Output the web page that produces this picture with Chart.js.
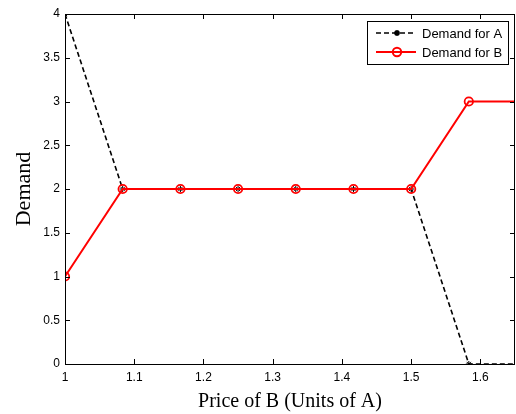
<!DOCTYPE html>
<html>
<head>
<meta charset="utf-8">
<script src="https://cdn.jsdelivr.net/npm/chart.js@4/dist/chart.umd.min.js"></script>
<style>
html,body{margin:0;padding:0;background:#fff;}
#wrap{width:516px;height:414px;position:relative;}
</style>
</head>
<body>
<div id="wrap"><canvas id="c" width="516" height="414"></canvas></div>
<script>
const priceB = [1, 1.0833, 1.1667, 1.25, 1.3333, 1.4167, 1.5, 1.5833, 1.6667];
const demandA = [4, 2, 2, 2, 2, 2, 2, 0, 0];
const demandB = [1, 2, 2, 2, 2, 2, 2, 3, 3];
const xTicks = [1, 1.1, 1.2, 1.3, 1.4, 1.5, 1.6];
const yTicks = [0, 0.5, 1, 1.5, 2, 2.5, 3, 3.5, 4];
const seriesLabels = ['Demand for A', 'Demand for B'];
const xTitle = 'Price of B (Units of A)';
const yTitle = 'Demand';

// keep marker overflow from shrinking the plot area
Chart.LineController.prototype.getMaxOverflow = function () { return 0; };

const boxPlugin = {
  id: 'boxPlugin',
  afterDatasetsDraw(chart) {
    const ctx = chart.ctx, a = chart.chartArea;
    const xs = chart.scales.x, ys = chart.scales.y;
    ctx.save();
    ctx.strokeStyle = '#000';
    ctx.lineWidth = 1;
    ctx.beginPath();
    ctx.rect(Math.round(a.left) + 0.5, Math.round(a.top) + 0.5, Math.round(a.right - a.left) - 1, Math.round(a.bottom - a.top));
    ctx.stroke();
    const tl = 5;
    ctx.beginPath();
    xTicks.forEach(v => {
      const px = Math.round(xs.getPixelForValue(v)) + 0.5;
      ctx.moveTo(px, a.bottom); ctx.lineTo(px, a.bottom - tl);
      ctx.moveTo(px, a.top); ctx.lineTo(px, a.top + tl);
    });
    yTicks.forEach(v => {
      const py = Math.round(ys.getPixelForValue(v)) + 0.5;
      ctx.moveTo(a.left, py); ctx.lineTo(a.left + tl, py);
      ctx.moveTo(a.right, py); ctx.lineTo(a.right - tl, py);
    });
    ctx.stroke();

    // legend
    const lx = 367, ly = 21, lw = 141, lh = 43;
    ctx.fillStyle = '#fff';
    ctx.fillRect(lx, ly, lw, lh);
    ctx.strokeStyle = '#000';
    ctx.lineWidth = 1;
    ctx.strokeRect(lx + 0.5, ly + 0.5, lw, lh);
    const rows = [33, 52];
    chart.data.datasets.forEach((ds, i) => {
      const y = rows[i];
      ctx.save();
      ctx.strokeStyle = ds.borderColor;
      ctx.lineWidth = ds.borderWidth;
      ctx.setLineDash(ds.borderDash || []);
      ctx.beginPath(); ctx.moveTo(376, y); ctx.lineTo(416, y); ctx.stroke();
      ctx.setLineDash([]);
      ctx.fillStyle = ds.pointBackgroundColor;
      Chart.helpers.drawPoint(ctx, {
        pointStyle: ds.pointStyle, radius: ds.pointRadius, rotation: 0,
        borderWidth: ds.pointBorderWidth || 1
      }, 397, y);
      ctx.restore();
      ctx.save();
      ctx.fillStyle = '#000';
      ctx.font = '13px "Liberation Sans", Arial, sans-serif';
      ctx.textBaseline = 'middle';
      ctx.fillText(ds.label, 422, y + 1);
      ctx.restore();
    });
    ctx.restore();
  }
};

new Chart(document.getElementById('c'), {
  type: 'line',
  data: {
    datasets: [
      {
        label: seriesLabels[0],
        data: priceB.map((x, i) => ({x, y: demandA[i]})),
        borderColor: '#000', backgroundColor: '#000',
        borderWidth: 1.6, borderDash: [5, 3],
        pointStyle: 'star', pointRadius: 3, pointBorderWidth: 1,
        pointBorderColor: '#000', pointBackgroundColor: '#000',
        order: 2, tension: 0
      },
      {
        label: seriesLabels[1],
        data: priceB.map((x, i) => ({x, y: demandB[i]})),
        borderColor: '#ff0000', backgroundColor: 'rgba(0,0,0,0)',
        borderWidth: 2,
        pointStyle: 'circle', pointRadius: 4.2, pointBorderWidth: 1.8,
        pointBorderColor: '#ff0000', pointBackgroundColor: 'rgba(0,0,0,0)',
        order: 1, tension: 0
      }
    ]
  },
  options: {
    responsive: false, animation: false,
    layout: { padding: { left: 0, right: 1, top: 14, bottom: 0 } },
    plugins: { legend: { display: false }, tooltip: { enabled: false } },
    scales: {
      x: {
        type: 'linear', min: 1, max: 1.65,
        afterBuildTicks: s => { s.ticks = xTicks.map(v => ({value: v})); },
        afterFit: s => { s.height = 50; s.paddingRight = 0; s.paddingLeft = 0; },
        grid: { display: false, drawTicks: false },
        border: { display: false },
        ticks: { color: '#000', padding: 6, maxRotation: 0,
          font: { family: '"Liberation Sans", Arial, sans-serif', size: 12 },
          callback: v => String(v) },
        title: { display: true, text: xTitle, color: '#000', padding: { top: 0, bottom: 0 },
          font: { family: '"Liberation Serif", "Times New Roman", serif', size: 20 } }
      },
      y: {
        type: 'linear', min: 0, max: 4,
        afterBuildTicks: s => { s.ticks = yTicks.map(v => ({value: v})); },
        afterFit: s => { s.width = 65; },
        grid: { display: false, drawTicks: false },
        border: { display: false },
        ticks: { color: '#000', padding: 5,
          font: { family: '"Liberation Sans", Arial, sans-serif', size: 12 },
          callback: v => String(v) },
        title: { display: true, text: yTitle, color: '#000', padding: { top: 11, bottom: 0 },
          font: { family: '"Liberation Serif", "Times New Roman", serif', size: 22 } }
      }
    }
  },
  plugins: [boxPlugin]
});
</script>
</body>
</html>
